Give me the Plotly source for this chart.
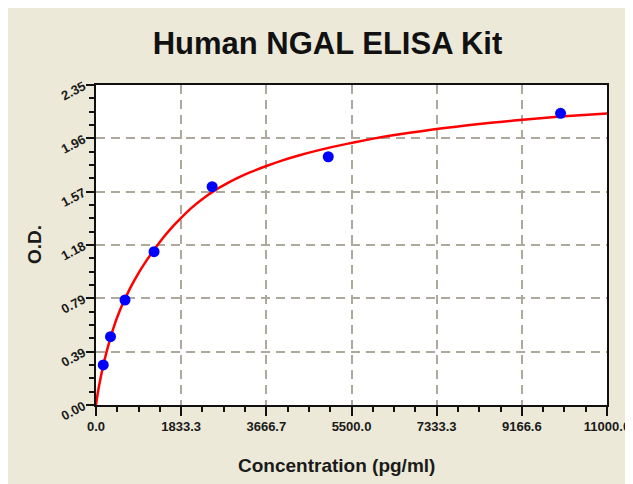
import plotly.graph_objects as go

# Standard points
conc = [156.25, 312.5, 625, 1250, 2500, 5000, 10000]
od = [0.294, 0.502, 0.771, 1.126, 1.603, 1.823, 2.142]

# Fitted curve
curve_x = [0, 30, 60, 100, 156, 220, 312.5, 420, 520, 625, 750, 900, 1050, 1250,
           1450, 1650, 1833, 2050, 2300, 2550, 2800, 3050, 3300, 3667, 4000, 4400,
           4800, 5200, 5600, 6000, 6500, 7000, 7500, 8000, 8500, 9000, 9500, 10000,
           10500, 11000]
curve_y = [0.000, 0.070, 0.130, 0.200, 0.290, 0.380, 0.495, 0.610, 0.700, 0.780,
           0.868, 0.960, 1.042, 1.140, 1.230, 1.310, 1.375, 1.446, 1.515, 1.574,
           1.624, 1.668, 1.706, 1.755, 1.795, 1.836, 1.872, 1.903, 1.932, 1.958,
           1.986, 2.011, 2.034, 2.054, 2.072, 2.089, 2.104, 2.118, 2.130, 2.140]

x_tickvals = [0, 1833.333, 3666.667, 5500, 7333.333, 9166.667, 11000]
x_ticktext = ["0.0", "1833.3", "3666.7", "5500.0", "7333.3", "9166.6", "11000.0"]
y_tickvals = [0, 0.391667, 0.783333, 1.175, 1.566667, 1.958333, 2.35]
y_ticktext = ["0.00", "0.39", "0.79", "1.18", "1.57", "1.96", "2.35"]

BG = "#ECE9D8"
GRID = "#ADA99C"
FONT = "Liberation Sans, Arial, sans-serif"

fig = go.Figure()
fig.add_trace(go.Scatter(x=curve_x, y=curve_y, mode="lines",
                         line=dict(color="#FF0000", width=2.5, shape="spline", smoothing=0.8),
                         hoverinfo="skip", showlegend=False))
fig.add_trace(go.Scatter(x=conc, y=od, mode="markers",
                         marker=dict(color="#0000FF", size=11, symbol="circle"),
                         showlegend=False))

fig.update_layout(
    width=633, height=484,
    margin=dict(l=88, r=34, t=77, b=87),
    paper_bgcolor=BG, plot_bgcolor="white",
    font=dict(family=FONT, color="#1a1a1a"),
    title=dict(text="<b>Human NGAL ELISA Kit</b>", font=dict(size=31, color="#111"),
               x=319.5 / 633, xanchor="center", y=1 - 35 / 484, yanchor="middle",
               xref="container", yref="container"),
    annotations=[
        dict(text="<b>Concentration (pg/ml)</b>", xref="paper", yref="paper",
             x=(328.5 - 88) / 511, y=(397 - 457) / 320, xanchor="center", yanchor="middle",
             showarrow=False, font=dict(size=19, color="#1a1a1a")),
        dict(text="<b>O.D.</b>", xref="paper", yref="paper",
             x=(26 - 88) / 511, y=0.5, xanchor="center", yanchor="middle",
             textangle=-90, showarrow=False, font=dict(size=19, color="#1a1a1a")),
    ],
)

fig.update_xaxes(
    range=[0, 11000], tickmode="array", tickvals=x_tickvals,
    ticktext=["<b>%s</b>" % t for t in x_ticktext],
    tickfont=dict(size=13, family=FONT, color="#1a1a1a"),
    ticks="outside", ticklen=9, tickwidth=1.5, tickcolor="#111",
    showline=True, linecolor="#111", linewidth=1.5, mirror=True,
    showgrid=True, gridcolor=GRID, gridwidth=1.5, griddash="9px,6px",
    minor=dict(dtick=11000 / 24, tick0=0, ticks="outside", ticklen=5,
               tickwidth=1.5, tickcolor="#111", showgrid=False),
    zeroline=False,
)
fig.update_yaxes(
    range=[0, 2.35], tickmode="array", tickvals=y_tickvals,
    ticktext=["<b>%s</b>" % t for t in y_ticktext],
    tickfont=dict(size=13, family=FONT, color="#1a1a1a"), tickangle=-28,
    ticks="outside", ticklen=8, tickwidth=1.5, tickcolor="#111",
    showline=True, linecolor="#111", linewidth=1.5, mirror=True,
    showgrid=True, gridcolor=GRID, gridwidth=1.5, griddash="9px,6px",
    minor=dict(dtick=2.35 / 24, tick0=0, ticks="outside", ticklen=5,
               tickwidth=1.5, tickcolor="#111", showgrid=False),
    zeroline=False,
)

fig.write_html("out.html", config={"displayModeBar": False})
